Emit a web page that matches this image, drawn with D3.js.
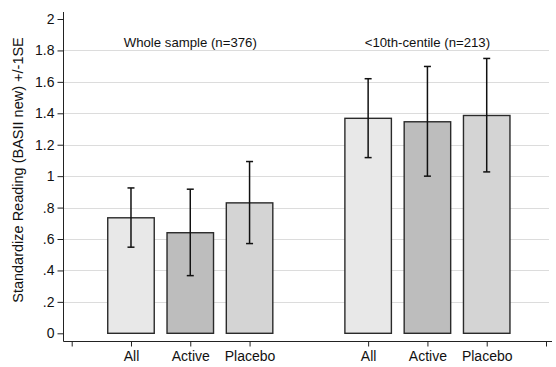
<!DOCTYPE html>
<html>
<head>
<meta charset="utf-8">
<script src="https://cdn.jsdelivr.net/npm/d3@7"></script>
<style>
  body { margin: 0; background: #fff; }
  text { font-family: "Liberation Sans", Arial, sans-serif; fill: #111; }
</style>
</head>
<body>
<div id="chart"></div>
<script>
// values
var groupTitles = ["Whole sample (n=376)", "<10th-centile (n=213)"];
var categories = ["All", "Active", "Placebo"];
var barColors = ["#e8e8e8", "#bdbdbd", "#d4d4d4"];
var wholeMean = [0.735, 0.640, 0.830];
var wholeLow = [0.548, 0.367, 0.571];
var wholeHigh = [0.925, 0.917, 1.093];
var centileMean = [1.368, 1.346, 1.386];
var centileLow = [1.118, 1.000, 1.027];
var centileHigh = [1.620, 1.698, 1.749];
var yTicks = [0, 0.2, 0.4, 0.6, 0.8, 1, 1.2, 1.4, 1.6, 1.8, 2];

var W = 556, H = 367;
var svg = d3.select("#chart").append("svg").attr("width", W).attr("height", H);

var axisX = 63.5, axisY = 341.5;
// slot positions: 0..2 for first group, 4..6 for second, end ticks at -1 and 7
var x = d3.scaleLinear().domain([-1, 7]).range([71.7, 546]);
var y = d3.scaleLinear().domain([0, 2]).range([333.3, 19]);
var barW = 46.5;

var rows = [];
categories.forEach(function(c, i) {
  rows.push({cat: c, slot: i, mean: wholeMean[i], lo: wholeLow[i], hi: wholeHigh[i], color: barColors[i]});
});
categories.forEach(function(c, i) {
  rows.push({cat: c, slot: i + 4, mean: centileMean[i], lo: centileLow[i], hi: centileHigh[i], color: barColors[i]});
});

// gridlines
svg.selectAll("line.grid")
  .data(yTicks.filter(function(d) { return d > 0 && d < 2; }))
  .enter().append("line")
  .attr("x1", axisX).attr("x2", 549)
  .attr("y1", function(d) { return Math.round(y(d)) + 0.5; })
  .attr("y2", function(d) { return Math.round(y(d)) + 0.5; })
  .attr("stroke", "#dcdcdc")
  .attr("stroke-width", 1);

// y axis
var yAxis = d3.axisLeft(y).tickValues(yTicks).tickSize(6).tickPadding(3)
  .tickFormat(function(d) { return d === 0 ? "0" : (d % 1 === 0 ? d + "" : d3.format(".1f")(d).replace(/^0/, "")); });
var gy = svg.append("g").attr("transform", "translate(" + axisX + ",0)").call(yAxis);
gy.select(".domain").remove();
gy.selectAll(".tick line").attr("stroke", "#222");
gy.selectAll(".tick text").attr("font-size", 14).attr("fill", "#111")
  .attr("font-family", "Liberation Sans, Arial, sans-serif");
svg.append("line").attr("x1", axisX).attr("x2", axisX).attr("y1", 12).attr("y2", axisY)
  .attr("stroke", "#222");

// x axis
var xAxis = d3.axisBottom(x).tickValues([-1, 0, 1, 2, 4, 5, 6, 7]).tickSize(5)
  .tickFormat(function(d) { var r = rows.find(function(o) { return o.slot === d; }); return r ? r.cat : ""; });
var gx = svg.append("g").attr("transform", "translate(0," + axisY + ")").call(xAxis);
gx.select(".domain").remove();
gx.selectAll(".tick line").attr("stroke", "#222");
gx.selectAll(".tick text").attr("font-size", 14).attr("dy", "0.85em").attr("fill", "#111")
  .attr("font-family", "Liberation Sans, Arial, sans-serif");
svg.append("line").attr("x1", axisX).attr("x2", 552).attr("y1", axisY).attr("y2", axisY)
  .attr("stroke", "#222");

// bars
svg.selectAll("rect.bar")
  .data(rows)
  .enter().append("rect")
  .attr("x", function(d) { return x(d.slot) - barW / 2; })
  .attr("width", barW)
  .attr("y", function(d) { return y(d.mean); })
  .attr("height", function(d) { return y(0) - y(d.mean); })
  .attr("fill", function(d) { return d.color; })
  .attr("stroke", "#2a2a2a")
  .attr("stroke-width", 1.4);

// error bars
var eb = svg.selectAll("g.err").data(rows).enter().append("g");
eb.append("line")
  .attr("x1", function(d) { return x(d.slot); }).attr("x2", function(d) { return x(d.slot); })
  .attr("y1", function(d) { return y(d.lo); }).attr("y2", function(d) { return y(d.hi); })
  .attr("stroke", "#111").attr("stroke-width", 1.5);
eb.append("line")
  .attr("x1", function(d) { return x(d.slot) - 3.5; }).attr("x2", function(d) { return x(d.slot) + 3.5; })
  .attr("y1", function(d) { return y(d.lo); }).attr("y2", function(d) { return y(d.lo); })
  .attr("stroke", "#111").attr("stroke-width", 1.5);
eb.append("line")
  .attr("x1", function(d) { return x(d.slot) - 3.5; }).attr("x2", function(d) { return x(d.slot) + 3.5; })
  .attr("y1", function(d) { return y(d.hi); }).attr("y2", function(d) { return y(d.hi); })
  .attr("stroke", "#111").attr("stroke-width", 1.5);

// group titles
svg.selectAll("text.gtitle")
  .data(groupTitles)
  .enter().append("text")
  .attr("x", function(d, i) { return x(1 + i * 4); })
  .attr("y", 47)
  .attr("text-anchor", "middle")
  .attr("font-size", 13.2)
  .text(function(d) { return d; });

// y label
svg.append("text")
  .attr("transform", "translate(23," + 170 + ") rotate(-90)")
  .attr("text-anchor", "middle")
  .attr("font-size", 14.5)
  .text("Standardize Reading (BASII new) +/-1SE");
</script>
</body>
</html>
